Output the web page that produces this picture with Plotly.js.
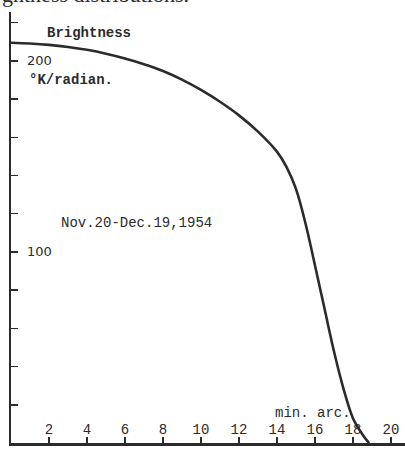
<!DOCTYPE html>
<html>
<head>
<meta charset="utf-8">
<script src="https://cdn.plot.ly/plotly-3.0.1.min.js"></script>
<style>html,body{margin:0;padding:0;background:#fff;}#chart{width:405px;height:469px;}</style>
</head>
<body>
<div id="chart"></div>
<script>
// Distance from disk centre (minutes of arc)
var distanceArcMin = [0, 1, 2, 3, 4, 5, 6, 7, 8, 9, 10, 11, 12, 13, 14, 14.5, 15, 15.5, 16, 16.5, 17, 17.5, 18, 18.5, 18.85];
// Brightness (°K/radian)
var brightness = [209.5, 209.1, 208.4, 207.3, 205.8, 203.8, 201.3, 198.3, 194.7, 190.2, 184.8, 178.6, 171.5, 163, 152.5, 144.5, 133, 115, 93, 70.5, 48, 28.5, 13, 4.5, 0];

var xTickVals = [2, 4, 6, 8, 10, 12, 14, 16, 18, 20];
var xTickText = ['2', '4', '6', '8', '10', '12', '14', '16', '18', '20'];
var yTickVals = [0, 20, 40, 60, 80, 100, 120, 140, 160, 180, 200, 220];
var yLabelVals = [100, 200];
var yLabelText = ['100', '200'];

var ink = '#2b2b2b';
var mono = 'Liberation Mono, Courier New, monospace';

var trace = {
  x: distanceArcMin,
  y: brightness,
  type: 'scatter',
  mode: 'lines',
  line: {color: ink, width: 2.6, shape: 'spline', smoothing: 1},
  hoverinfo: 'skip',
  cliponaxis: false
};

var annotations = [
  {text: 'ghtness distributions.', xref: 'paper', yref: 'paper', x: -11/394, y: 1.0, xanchor: 'left', yanchor: 'bottom', yshift: 3,
   showarrow: false, font: {family: 'Liberation Serif, serif', size: 22, color: ink}},
  {text: '<b>Brightness</b>', x: 1.79, y: 214.7, xanchor: 'left', yanchor: 'middle', showarrow: false,
   font: {family: mono, size: 14, color: ink}},
  {text: '<b>°K/radian.</b>', x: 0.84, y: 190, xanchor: 'left', yanchor: 'middle', showarrow: false,
   font: {family: mono, size: 14, color: ink}},
  {text: 'Nov.20-Dec.19,1954', x: 2.55, y: 115.2, xanchor: 'left', yanchor: 'middle', showarrow: false,
   font: {family: mono, size: 14, color: ink}},
  {text: 'min. arc.', x: 13.79, y: 15.5, xanchor: 'left', yanchor: 'middle', showarrow: false,
   font: {family: mono, size: 14, color: ink}},
  {text: 'Optical  Disk', x: 5.74, y: -9.4, xanchor: 'left', yanchor: 'middle', showarrow: false,
   font: {family: mono, size: 14, color: ink}}
];
yLabelVals.forEach(function (v, i) {
  annotations.push({text: yLabelText[i], x: 0.75, y: v, xanchor: 'left', yanchor: 'middle', showarrow: false,
    font: {family: 'DejaVu Sans, sans-serif', size: 13, color: ink}});
});

var layout = {
  width: 405,
  height: 469,
  margin: {l: 11, r: 0, t: 12, b: 26},
  paper_bgcolor: '#ffffff',
  plot_bgcolor: '#ffffff',
  showlegend: false,
  xaxis: {
    range: [0, 20.74],
    showgrid: false,
    zeroline: false,
    showline: true,
    linecolor: ink,
    linewidth: 2.5,
    ticks: 'inside',
    ticklen: 6,
    tickwidth: 1.5,
    tickcolor: ink,
    tickvals: xTickVals,
    ticktext: xTickText,
    ticklabelposition: 'inside',
    tickfont: {family: mono, size: 14, color: ink},
    fixedrange: true
  },
  yaxis: {
    range: [0, 225.6],
    showgrid: false,
    zeroline: false,
    showline: true,
    linecolor: ink,
    linewidth: 2,
    ticks: 'inside',
    ticklen: 7,
    tickwidth: 1.5,
    tickcolor: ink,
    tickvals: yTickVals,
    showticklabels: false,
    fixedrange: true
  },
  annotations: annotations
};

Plotly.newPlot('chart', [trace], layout, {displayModeBar: false, staticPlot: true});
</script>
</body>
</html>
